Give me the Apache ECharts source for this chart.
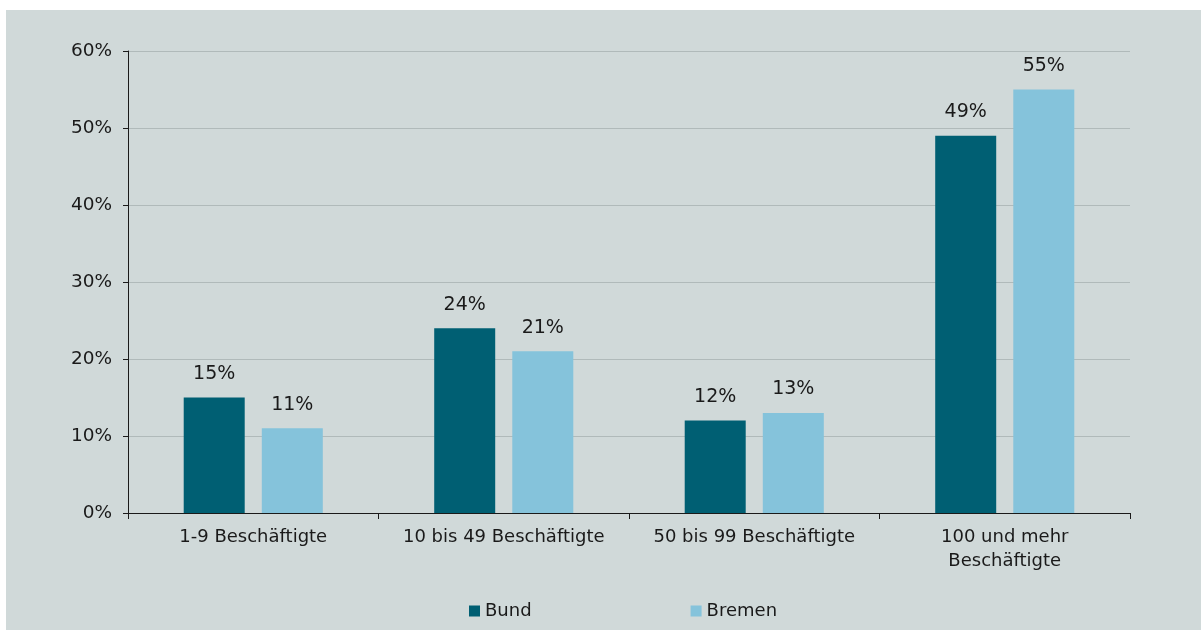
<!DOCTYPE html>
<html><head><meta charset="utf-8">
<script src="https://cdn.jsdelivr.net/npm/echarts@6/dist/echarts.min.js"></script>
<style>
html,body{margin:0;padding:0;background:#fff;width:1201px;height:630px;overflow:hidden;}
#c{position:absolute;left:6px;top:10px;width:1195px;height:620px;background:#d0d9d9;}
</style></head>
<body><div id="c"></div>
<script>
const categories = ['1-9 Beschäftigte', '10 bis 49 Beschäftigte', '50 bis 99 Beschäftigte', '100 und mehr\nBeschäftigte'];
const bund = [15, 24, 12, 49];
const bremen = [11, 21, 13, 55];
const yTicks = [0, 10, 20, 30, 40, 50, 60];
const seriesNames = ['Bund', 'Bremen'];

const font = '"DejaVu Sans", sans-serif';
const chart = echarts.init(document.getElementById('c'), null, {renderer: 'canvas'});
chart.setOption({
  backgroundColor: 'transparent',
  animation: false,
  textStyle: {fontFamily: font},
  grid: {left: 122, top: 41, right: 71, bottom: 117, containLabel: false},
  legend: {
    data: seriesNames,
    left: 463, top: 592, padding: 0,
    itemWidth: 11, itemHeight: 11, itemGap: 159,
    icon: 'rect',
    textStyle: {fontSize: 18, color: '#1a1a1a', fontFamily: font}
  },
  xAxis: {
    type: 'category',
    data: categories,
    axisLine: {lineStyle: {color: '#1a1a1a', width: 1}},
    axisTick: {show: true, length: 6, lineStyle: {color: '#1a1a1a'}},
    axisLabel: {interval: 0, fontSize: 18, color: '#1a1a1a', margin: 12, lineHeight: 24, fontFamily: font}
  },
  yAxis: {
    type: 'value',
    min: yTicks[0], max: yTicks[yTicks.length - 1], interval: 10,
    axisLine: {show: true, lineStyle: {color: '#1a1a1a', width: 1}},
    axisTick: {show: true, length: 5, lineStyle: {color: '#1a1a1a'}},
    axisLabel: {fontSize: 18.5, color: '#1a1a1a', margin: 16, formatter: v => v + '%', fontFamily: font},
    splitLine: {lineStyle: {color: '#b0baba', width: 1}}
  },
  series: [
    {
      name: seriesNames[0], type: 'bar', data: bund,
      barWidth: 61, barGap: '28%',
      itemStyle: {color: '#005f73'},
      label: {show: true, position: 'top', distance: 14, fontSize: 19, color: '#1a1a1a', formatter: p => p.value + '%', fontFamily: font}
    },
    {
      name: seriesNames[1], type: 'bar', data: bremen,
      barWidth: 61,
      itemStyle: {color: '#85c3db'},
      label: {show: true, position: 'top', distance: 14, fontSize: 19, color: '#1a1a1a', formatter: p => p.value + '%', fontFamily: font}
    }
  ]
});
</script></body></html>
